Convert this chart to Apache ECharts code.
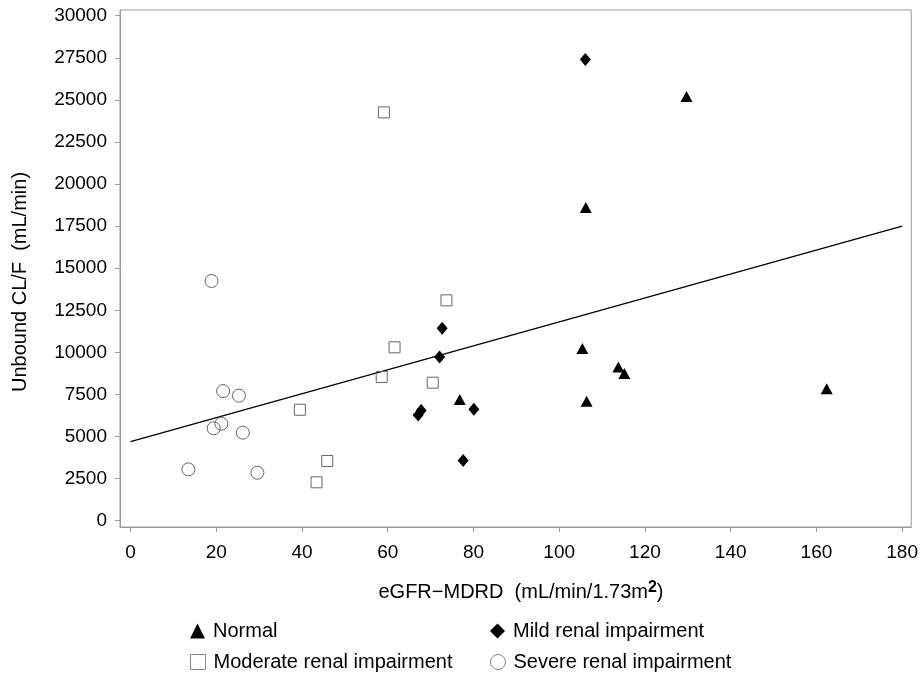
<!DOCTYPE html>
<html>
<head>
<meta charset="utf-8">
<script src="https://cdn.jsdelivr.net/npm/echarts@6/dist/echarts.min.js"></script>
<style>
html,body{margin:0;padding:0;background:#fff;}
#chart{width:921px;height:676px;}
</style>
</head>
<body>
<div id="chart"></div>
<script>
// ---- data ----
var normalX = [129.7, 106.2, 105.4, 113.8, 115.2, 106.4, 162.4, 76.8];
var normalY = [25200, 18600, 10230, 9130, 8750, 7090, 7840, 7200];

var mildX = [106.1, 72.7, 72.1, 67.1, 67.8, 80.1, 77.6];
var mildY = [27400, 11430, 9730, 6280, 6550, 6620, 3570];

var moderateX = [59.1, 73.7, 61.6, 58.6, 70.5, 39.5, 45.9, 43.4];
var moderateY = [24260, 13090, 10300, 8540, 8200, 6590, 3550, 2280];

var severeX = [18.9, 21.6, 25.3, 19.4, 21.2, 26.2, 13.5, 29.6];
var severeY = [14240, 7700, 7430, 5490, 5760, 5230, 3050, 2850];

var fitX = [0, 180];
var fitY = [4700, 17500];

var xTicks = [0, 20, 40, 60, 80, 100, 120, 140, 160, 180];
var yTicks = [0, 2500, 5000, 7500, 10000, 12500, 15000, 17500, 20000, 22500, 25000, 27500, 30000];

var xTitleMain = 'eGFR\u2212MDRD  (mL/min/1.73m';
var xTitleSup = '2';
var xTitleEnd = ')';
var yTitle = 'Unbound CL/F  (mL/min)';
var seriesNames = ['Normal', 'Mild renal impairment', 'Moderate renal impairment', 'Severe renal impairment'];

function pairs(xs, ys) { return xs.map(function (x, i) { return [x, ys[i]]; }); }

var FONT = '"Liberation Sans", Arial, sans-serif';
var AXIS_COLOR = '#9a9a9a';

function legendAt(name, icon, left, top, hollow) {
  var item = {name: name, icon: icon};
  if (hollow) {
    item.itemStyle = {color: '#fff', borderColor: '#888', borderWidth: 1};
  }
  return {
    orient: 'horizontal', left: left, top: top, itemWidth: 15, itemHeight: 15,
    data: [item],
    textStyle: {fontSize: 20, fontFamily: FONT, color: '#000', lineHeight: 20, padding: [0, 0, 0, 3]},
    selectedMode: false, padding: 0
  };
}

var chart = echarts.init(document.getElementById('chart'), null, {renderer: 'canvas'});
chart.setOption({
  animation: false,
  backgroundColor: '#fff',
  textStyle: {fontFamily: FONT, color: '#000'},
  grid: {
    left: 120, top: 10, right: 9, bottom: 149,
    show: true, borderColor: AXIS_COLOR, borderWidth: 1, backgroundColor: 'transparent'
  },
  xAxis: {
    type: 'value', min: -2.45, max: 182.12,
    axisLine: {show: true, onZero: false, lineStyle: {color: AXIS_COLOR}},
    axisTick: {show: true, length: 5, customValues: xTicks, lineStyle: {color: AXIS_COLOR}},
    axisLabel: {customValues: xTicks, fontSize: 19, fontFamily: FONT, color: '#000', margin: 16,
      formatter: function (v) { return String(v); }},
    splitLine: {show: false}
  },
  yAxis: {
    type: 'value', min: -374, max: 30339,
    axisLine: {show: true, onZero: false, lineStyle: {color: AXIS_COLOR}},
    axisTick: {show: true, length: 5, customValues: yTicks, lineStyle: {color: AXIS_COLOR}},
    axisLabel: {customValues: yTicks, fontSize: 19, fontFamily: FONT, color: '#000', margin: 13,
      formatter: function (v) { return String(v); }},
    splitLine: {show: false}
  },
  legend: [
    legendAt(seriesNames[0], 'triangle', 190, 621, false),
    legendAt(seriesNames[2], 'rect', 190, 652, true),
    legendAt(seriesNames[1], 'diamond', 490, 621, false),
    legendAt(seriesNames[3], 'circle', 490, 652, true)
  ],
  graphic: [
    {
      type: 'text', x: 20, y: 282, rotation: Math.PI / 2,
      style: {text: yTitle, font: '20px ' + FONT, fill: '#000', align: 'center', verticalAlign: 'middle'}
    },
    {
      type: 'text', x: 521, y: 592,
      style: {
        text: '{t|' + xTitleMain + '}{s|' + xTitleSup + '}{t|' + xTitleEnd + '}',
        align: 'center', verticalAlign: 'middle',
        rich: {
          t: {fontSize: 20, fontFamily: FONT, fill: '#000', lineHeight: 24},
          s: {fontSize: 16, fontWeight: 'bold', fontFamily: FONT, fill: '#000', verticalAlign: 'top', lineHeight: 15}
        }
      }
    }
  ],
  series: [
    {
      name: 'fit', type: 'line', data: pairs(fitX, fitY), showSymbol: false, symbol: 'none',
      lineStyle: {color: '#000', width: 1.3}, silent: true, z: 1
    },
    {
      name: seriesNames[0], type: 'scatter', data: pairs(normalX, normalY),
      symbol: 'triangle', symbolSize: [12, 11], itemStyle: {color: '#000', opacity: 1}, z: 3
    },
    {
      name: seriesNames[1], type: 'scatter', data: pairs(mildX, mildY),
      symbol: 'diamond', symbolSize: [11, 13], itemStyle: {color: '#000', opacity: 1}, z: 3
    },
    {
      name: seriesNames[2], type: 'scatter', data: pairs(moderateX, moderateY),
      symbol: 'rect', symbolSize: 11,
      itemStyle: {color: 'rgba(255,255,255,0)', borderColor: '#666', borderWidth: 1, opacity: 1}, z: 2
    },
    {
      name: seriesNames[3], type: 'scatter', data: pairs(severeX, severeY),
      symbol: 'circle', symbolSize: 13,
      itemStyle: {color: 'rgba(255,255,255,0)', borderColor: '#666', borderWidth: 1, opacity: 1}, z: 2
    }
  ]
});
</script>
</body>
</html>
